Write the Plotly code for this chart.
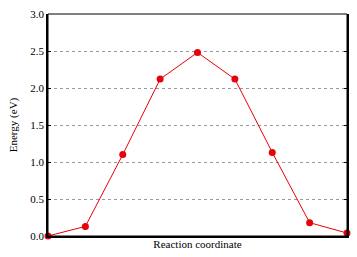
import plotly.graph_objects as go

images = list(range(9))
energy = [0.0, 0.13, 1.10, 2.12, 2.48, 2.12, 1.13, 0.18, 0.04]
y_ticks = [0.0, 0.5, 1.0, 1.5, 2.0, 2.5, 3.0]
y_tick_labels = ["0.0", "0.5", "1.0", "1.5", "2.0", "2.5", "3.0"]

fig = go.Figure()
fig.add_trace(go.Scatter(
    x=images, y=energy, mode="lines+markers",
    line=dict(color="#e8000b", width=1),
    marker=dict(color="#e8000b", size=7),
    cliponaxis=False, showlegend=False,
))

serif = "Times New Roman, Liberation Serif, DejaVu Serif, serif"
fig.update_layout(
    width=357, height=257,
    margin=dict(l=48, r=8, t=10, b=21),
    paper_bgcolor="white", plot_bgcolor="white",
    font=dict(family=serif, size=11, color="black"),
    xaxis=dict(
        range=[0, 8], showticklabels=False, ticks="", showgrid=False,
        zeroline=False, showline=True, linecolor="black", linewidth=2,
        title=dict(text="Reaction coordinate", standoff=3, font=dict(family=serif, size=11)),
    ),
    yaxis=dict(
        range=[0, 3], tickvals=y_ticks, ticktext=y_tick_labels,
        tickfont=dict(family=serif, size=11),
        ticks="inside", ticklen=3, tickcolor="black",
        showgrid=True, gridcolor="#999999", griddash="dot", gridwidth=1,
        zeroline=False, showline=True, linecolor="black", linewidth=1.5,
        mirror="ticks",
        title=dict(text="Energy (eV)", standoff=10, font=dict(family=serif, size=11)),
    ),
    shapes=[dict(type="rect", xref="paper", yref="paper", x0=0, x1=1, y0=0, y1=1,
                 line=dict(color="black", width=1), layer="above")],
)

fig.write_html("out.html")
